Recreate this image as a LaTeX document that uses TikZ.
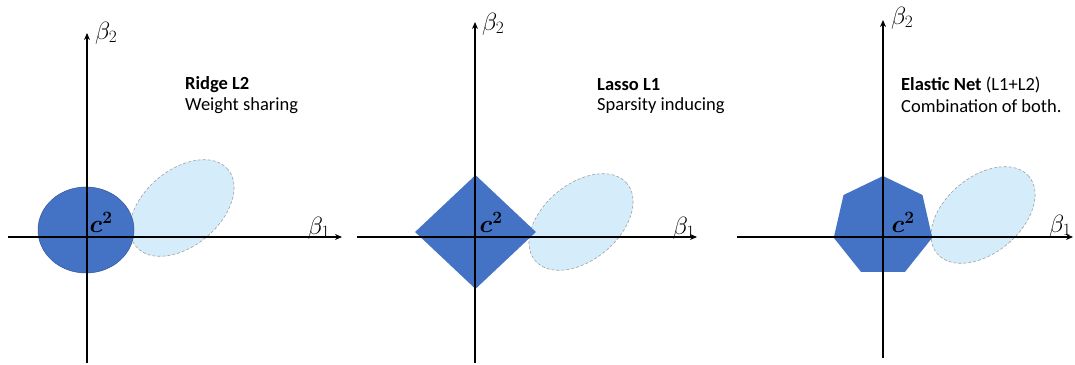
\documentclass[tikz,border=0pt]{standalone}
\usepackage{amsmath}
\usepackage{fontspec}
\setmainfont{Carlito}
\usepackage{xcolor}
\definecolor{cBall}{HTML}{4472C4}
\definecolor{cLoss}{HTML}{D5ECFB}
\definecolor{cEdge}{HTML}{A0A0A0}
\usepackage{tikz}
\usetikzlibrary{arrows.meta,shapes.geometric}
\tikzset{
  axis-line/.style={-{Stealth[length=7pt,width=6pt]},line width=1.5pt,draw=black},
  node-ball/.style={fill=cBall,draw=none,inner sep=0pt},
  node-loss/.style={ellipse,fill=cLoss,draw=cEdge,densely dashed,line width=0.6pt,
    minimum width=120pt,minimum height=76pt,inner sep=0pt,rotate=40},
  node-axis/.style={inner sep=0pt,font=\fontsize{23}{26}\selectfont},
  node-title/.style={anchor=west,inner sep=0pt,font=\fontsize{18.5}{22}\selectfont},
}

\begin{document}
\begin{tikzpicture}[x=1pt,y=1pt]
  \useasboundingbox (0,0) rectangle (1075,364);
  % Ridge
  \node[node-loss] (loss-r) at (182,156) {};
  \node[node-ball,ellipse,draw=cBall!75!black,line width=0.5pt,
    minimum width=96pt,minimum height=86pt] (ball-r) at (86,134) {};
  \draw[axis-line] (87,1) -- (87,331);
  \draw[axis-line] (8,127) -- (342,127);
  \node[node-axis,anchor=west] (b2-r) at (95,331) {$\beta_2$};
  \node[node-axis] (b1-r) at (319,136) {$\beta_1$};
  \node[node-axis] (c-r) at (101,142) {$\boldsymbol{c^2}$};
  \node[node-title] (t-r) at (185,279) {\textbf{Ridge L2}};
  \node[node-title] (s-r) at (185,258) {Weight sharing};
  % Lasso
  \node[node-loss] (loss-l) at (581,142) {};
  \node[node-ball,diamond,minimum width=121pt,minimum height=114pt] (ball-l) at (475.5,132) {};
  \draw[axis-line] (475,1) -- (475,342);
  \draw[axis-line] (357,127) -- (697,127);
  \node[node-axis,anchor=west] (b2-l) at (482,340) {$\beta_2$};
  \node[node-axis] (b1-l) at (684,136) {$\beta_1$};
  \node[node-axis] (c-l) at (491,142) {$\boldsymbol{c^2}$};
  \node[node-title] (t-l) at (597,279) {\textbf{Lasso L1}};
  \node[node-title] (s-l) at (597,258) {Sparsity inducing};
  % Elastic Net
  \node[node-loss] (loss-e) at (983,149) {};
  \node[node-ball,regular polygon,regular polygon sides=7,minimum size=101pt] (ball-e) at (883,137.5) {};
  \draw[axis-line] (883,6) -- (883,344);
  \draw[axis-line] (737,127) -- (1073,127);
  \node[node-axis,anchor=west] (b2-e) at (891,346) {$\beta_2$};
  \node[node-axis,anchor=west] (b1-e) at (1049,138) {$\beta_1$};
  \node[node-axis] (c-e) at (903,142) {$\boldsymbol{c^2}$};
  \node[node-title] (t-e) at (901,279) {\textbf{Elastic Net} (L1+L2)};
  \node[node-title] (s-e) at (901,258) {Combination of both.};
\end{tikzpicture}
\end{document}
